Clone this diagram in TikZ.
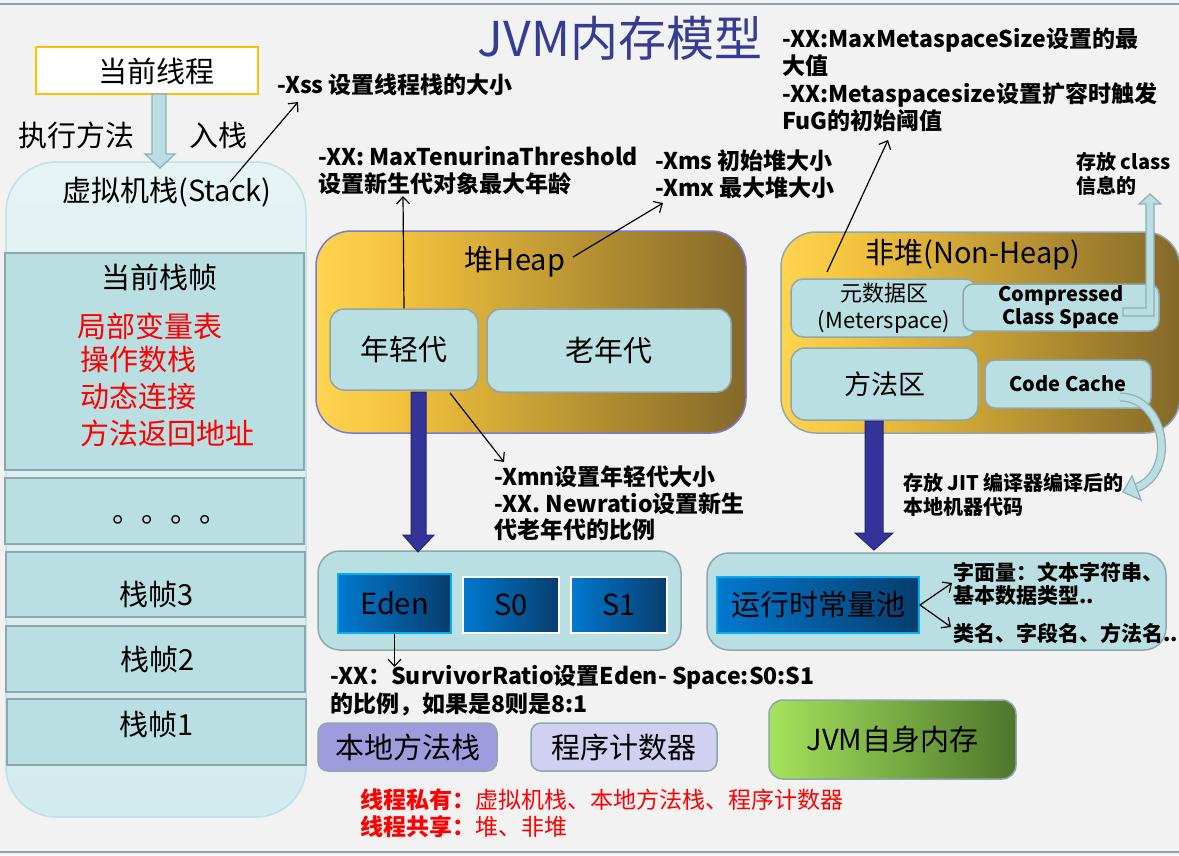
\documentclass[tikz,border=0pt]{standalone}
\usepackage{fontspec}
\setmainfont{Noto Sans CJK SC}
\usetikzlibrary{arrows.meta,calc}
\definecolor{bg}{HTML}{F2F2F2}
\definecolor{frameline}{HTML}{8DA5A8}
\definecolor{boxfill}{HTML}{B9DFE3}
\definecolor{boxborder}{HTML}{8DA8AB}
\definecolor{stackTop}{HTML}{E6F3F5}
\definecolor{stackBot}{HTML}{D2EBEE}
\definecolor{stackborder}{HTML}{BFE0E4}
\definecolor{threadborder}{HTML}{FFC000}
\definecolor{titlecol}{HTML}{363B96}
\definecolor{heapY}{HTML}{FFD44F}
\definecolor{heapM}{HTML}{F2C23D}
\definecolor{heapD}{HTML}{836829}
\definecolor{heapborder}{HTML}{7A7AD2}
\definecolor{navy}{HTML}{333399}
\definecolor{navyborder}{HTML}{25256E}
\definecolor{blueL}{HTML}{0079CF}
\definecolor{blueD}{HTML}{083D6D}
\definecolor{cyanborder}{HTML}{00B0F0}
\definecolor{nativecol}{HTML}{9E9CDC}
\definecolor{pccol}{HTML}{D0D0F0}
\definecolor{greenL}{HTML}{A5E35B}
\definecolor{greenD}{HTML}{4E762D}
\definecolor{arrowborder}{HTML}{8FAFB3}
\definecolor{redtxt}{HTML}{FF0000}
\pgfdeclarehorizontalshading{heapshade}{100bp}{color(0bp)=(heapY); color(25bp)=(heapY); color(35bp)=(heapM); color(75bp)=(heapD); color(100bp)=(heapD)}
\begin{document}
\begin{tikzpicture}[x=1pt,y=-1pt,
  box/.style={draw=boxborder, line width=1.5pt, fill=boxfill, inner sep=0pt},
  rbox/.style={box, rounded corners=#1},
  lbl/.style={font=\fontsize{29}{34}\selectfont, inner sep=0pt},
  ann/.style={font=\fontsize{23}{27}\selectfont\bfseries, align=left, inner sep=0pt, anchor=west},
  annsm/.style={font=\fontsize{20}{24}\selectfont\bfseries, align=left, inner sep=0pt, anchor=west},
  annarrow/.style={-{Straight Barb[length=7pt,width=13pt]}, line width=1.2pt, black},
  bluebox/.style={draw=#1, line width=2pt, left color=blueL, right color=blueD, inner sep=0pt},
  hollow/.style={fill=boxfill, draw=arrowborder, line width=1.2pt, line join=miter},
  navyarrow/.style={fill=navy, draw=navyborder, line width=1pt, line join=miter}
]
\useasboundingbox (0,0) rectangle (1179,855);
\clip (0,0) rectangle (1179,855);
\fill[bg] (0,0) rectangle (1179,855);
\draw[frameline, line width=2.5pt] (0,4) -- (1179,4);
\draw[frameline, line width=2.5pt] (0,852) -- (1179,852);

% ---------- title ----------
\node[font=\fontsize{48}{52}\selectfont, text=titlecol, inner sep=0pt] (title) at (620,38) {JVM内存模型};

% ---------- stack ----------
\node[draw=stackborder, line width=1.5pt, rounded corners=50pt, top color=stackTop, bottom color=stackBot, minimum width=300pt, minimum height=655pt, inner sep=0pt] (stack) at (156,489.5) {};
\node[lbl] (stacktxt) at (167,192) {虚拟机栈(Stack)};
\node[box, minimum width=299pt, minimum height=217pt] (cur) at (154.5,361.5) {};
\node[box, minimum width=299pt, minimum height=66pt] (dots) at (154.5,511) {};
\node[box, minimum width=299pt, minimum height=65pt] (f3) at (155.5,584.5) {};
\node[box, minimum width=299pt, minimum height=66pt] (f2) at (155.5,659) {};
\node[box, minimum width=299pt, minimum height=66pt] (f1) at (156.5,732) {};
\node[lbl] (curtxt) at (159,277) {当前栈帧};
\node[lbl, text=redtxt, anchor=west] (lv) at (77,326) {局部变量表};
\node[lbl, text=redtxt, anchor=west] (os) at (80,360) {操作数栈};
\node[lbl, text=redtxt, anchor=west] (dl) at (80,396) {动态连接};
\node[lbl, text=redtxt, anchor=west] (ra) at (80,433) {方法返回地址};
\node[lbl] (dotstxt) at (170,520) {。。。。};
\node[lbl] (f3txt) at (157,594) {栈帧3};
\node[lbl] (f2txt) at (158,659) {栈帧2};
\node[lbl] (f1txt) at (157,724) {栈帧1};

% ---------- current thread ----------
\node[draw=threadborder, fill=white, line width=1.5pt, minimum width=222pt, minimum height=47pt, inner sep=0pt] (thread) at (147,70.5) {};
\node[lbl] (threadtxt) at (156,71) {当前线程};
\node[lbl] (exec) at (77,135) {执行方法};
\node[lbl] (push) at (218,135) {入栈};
\draw[hollow] (152,94) -- (166,94) -- (166,154) -- (175,154) -- (160,168) -- (145,154) -- (152,154) -- cycle;

% ---------- heap ----------
\node[draw=heapborder, line width=1.5pt, rounded corners=35pt, shade, shading=heapshade, minimum width=430pt, minimum height=202pt, inner sep=0pt] (heap) at (531,332) {};
\node[lbl] (heaptxt) at (515,262) {堆Heap};
\node[rbox=14pt, minimum width=148pt, minimum height=81pt, lbl] (young) at (404,349.5) {年轻代};
\node[rbox=14pt, minimum width=244pt, minimum height=83pt, lbl] (old) at (609,350.5) {老年代};

% ---------- non-heap ----------
\node[draw=boxborder, line width=1.5pt, rounded corners=35pt, shade, shading=heapshade, minimum width=399pt, minimum height=201pt, inner sep=0pt] (nonheap) at (980.5,332.5) {};
\node[lbl] (nonheaptxt) at (973,255) {非堆(Non-Heap)};
\node[rbox=12pt, minimum width=186pt, minimum height=58pt, font=\fontsize{22}{27}\selectfont, align=center] (meta) at (884,308) {元数据区\\(Meterspace)};
\node[rbox=10pt, minimum width=196pt, minimum height=47pt, font=\fontsize{20}{23}\selectfont\bfseries, align=center] (ccs) at (1061,307.5) {Compressed\\Class Space};
\node[rbox=14pt, minimum width=187pt, minimum height=72pt, font=\fontsize{27}{32}\selectfont] (method) at (884.5,384) {方法区};
\node[rbox=10pt, minimum width=166pt, minimum height=48pt, font=\fontsize{20}{24}\selectfont\bfseries] (codecache) at (1068,384) {Code Cache};
% elbow arrow up from Compressed Class Space
\draw[hollow] (1123,308) -- (1146,308) -- (1146,204) -- (1139,204) -- (1150,194) -- (1161,204) -- (1154,204) -- (1154,316) -- (1123,316) -- cycle;
% curved arrow from Code Cache
\coordinate (ccstart) at (1120,397);
\coordinate (ccend) at (1136,488);
\draw[arrowborder, line width=9pt] (ccstart) .. controls (1165,397) and (1178,472) .. (ccend);
\draw[boxfill, line width=6.5pt] (ccstart) .. controls (1165,397) and (1178,472) .. (ccend);
\draw[hollow] (1132,476) -- (1123,492) -- (1141,500) -- cycle;

% ---------- eden pool ----------
\node[rbox=22pt, minimum width=363pt, minimum height=99pt] (youngpool) at (499.5,600.5) {};
\node[bluebox=cyanborder, minimum width=113pt, minimum height=59pt, lbl] (eden) at (394.5,603.5) {Eden};
\node[bluebox=white, minimum width=96pt, minimum height=56pt, lbl] (s0) at (511,605) {S0};
\node[bluebox=white, minimum width=96pt, minimum height=56pt, lbl] (s1) at (619,605) {S1};

% ---------- runtime constant pool ----------
\node[rbox=22pt, minimum width=459pt, minimum height=97pt] (rcpool) at (936.5,601.5) {};
\node[bluebox=cyanborder, minimum width=202pt, minimum height=56pt, lbl] (rcp) at (818,605) {运行时常量池};
\node[ann, font=\fontsize{21}{23}\selectfont\bfseries] (literal) at (953,583.5) {字面量：文本字符串、\\基本数据类型..};
\node[ann, font=\fontsize{21}{23}\selectfont\bfseries] (names) at (953,633) {类名、字段名、方法名..};
\coordinate (lit tip) at (952,583);
\coordinate (names tip) at (951,627);
\draw[annarrow] (rcp.east) -- (lit tip);
\draw[annarrow] (rcp.east) -- (names tip);

% ---------- bottom boxes ----------
\node[rbox=10pt, fill=nativecol, minimum width=179pt, minimum height=48pt, lbl] (native) at (407.5,747) {本地方法栈};
\node[rbox=10pt, fill=pccol, minimum width=186pt, minimum height=48pt, lbl] (pc) at (624,747) {程序计数器};
\node[draw=boxborder, line width=1.5pt, rounded corners=14pt, left color=greenL, right color=greenD, minimum width=247pt, minimum height=79pt, inner sep=0pt, lbl] (jvmself) at (892.5,739.5) {JVM自身内存};
\node[anchor=west, align=left, inner sep=0pt, text=redtxt, font=\fontsize{23}{27.5}\selectfont] (scope) at (360,813) {{\bfseries 线程私有：}虚拟机栈、本地方法栈、程序计数器\\{\bfseries 线程共享：}堆、非堆};

% ---------- big navy arrows ----------
\draw[navyarrow] (411,392) -- (426,392) -- (426,535) -- (434,535) -- (418,552) -- (403,535) -- (411,535) -- cycle;
\draw[navyarrow] (865,421) -- (883,421) -- (883,533) -- (893,533) -- (874,550) -- (855,533) -- (865,533) -- cycle;

% ---------- annotations ----------
\node[ann] (xss) at (277,85) {-Xss 设置线程栈的大小};
\node[ann] (maxt) at (318,170.5) {-XX: MaxTenurinaThreshold\\设置新生代对象最大年龄};
\node[ann] (xms) at (655,174.5) {-Xms 初始堆大小\\-Xmx 最大堆大小};
\node[ann, font=\fontsize{23}{27.5}\selectfont\bfseries] (metaann) at (782,80) {-XX:MaxMetaspaceSize设置的最\\大值\\-XX:Metaspacesize设置扩容时触发\\FuG的初始阈值};
\node[annsm] (classinfo) at (1076,174) {存放 class\\信息的};
\node[ann, font=\fontsize{23}{26.5}\selectfont\bfseries] (xmn) at (494,503.5) {-Xmn设置年轻代大小\\-XX. Newratio设置新生\\代老年代的比例};
\node[annsm] (jit) at (903,495) {存放 JIT 编译器编译后的\\本地机器代码};
\node[ann, font=\fontsize{23}{27.5}\selectfont\bfseries] (survivor) at (330,690.5) {-XX：SurvivorRatio设置Eden- Space:S0:S1\\的比例，如果是8则是8:1};

\coordinate (xss from) at (230,182);
\coordinate (xss tip) at (298,102);
\draw[annarrow] (xss from) -- (xss tip);
\coordinate (maxt tip) at (403,196);
\draw[annarrow] (young.north) -- (maxt tip);
\coordinate (xms from) at (573,257);
\coordinate (xms tip) at (663,203);
\draw[annarrow] (xms from) -- (xms tip);
\coordinate (meta from) at (827,272);
\coordinate (meta tip) at (888,140);
\draw[annarrow] (meta from) -- (meta tip);
\coordinate (xmn from) at (450,393);
\coordinate (xmn tip) at (504,462);
\draw[annarrow] (xmn from) -- (xmn tip);
\coordinate (surv tip) at (394.5,667);
\draw[annarrow] (eden.south) -- (surv tip);
\end{tikzpicture}
\end{document}
